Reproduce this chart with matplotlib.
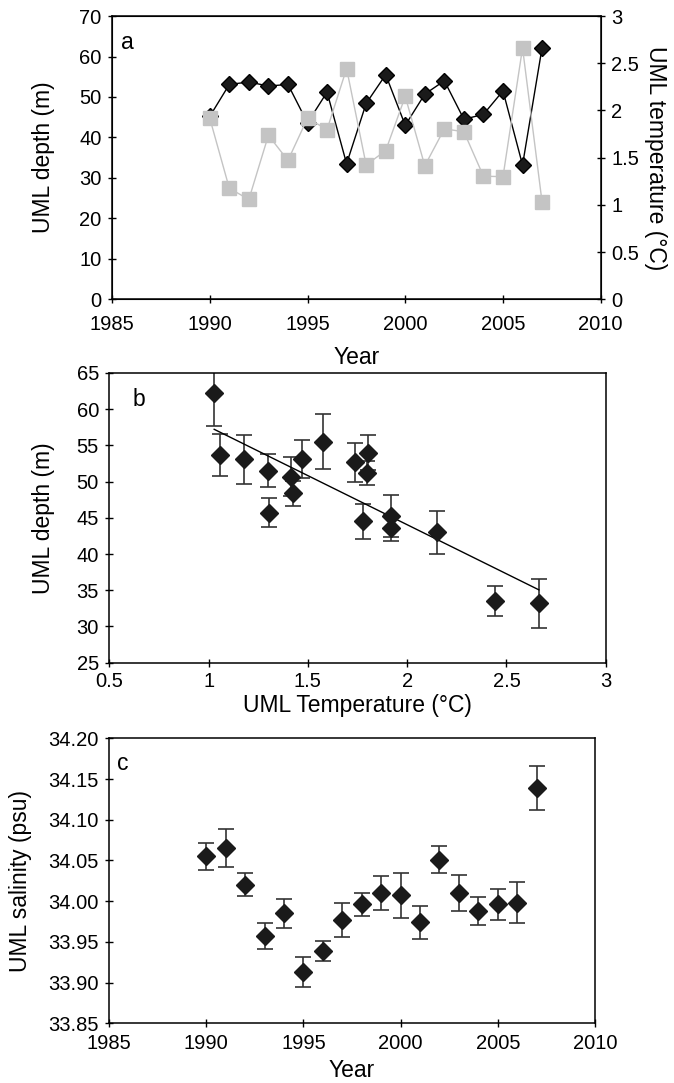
import numpy as np
import matplotlib
matplotlib.use("Agg")
import matplotlib.pyplot as plt

plt.rcParams["font.family"] = ["Liberation Sans", "DejaVu Sans"]

# data
years = [1990, 1991, 1992, 1993, 1994, 1995, 1996, 1997, 1998,
         1999, 2000, 2001, 2002, 2003, 2004, 2005, 2006, 2007]
uml_depth = [45.2, 53.1, 53.7, 52.7, 53.1, 43.6, 51.2, 33.5, 48.4,
             55.5, 43.0, 50.7, 54.0, 44.5, 45.7, 51.5, 33.2, 62.2]
depth_err = [2.9, 3.4, 2.9, 2.7, 2.6, 1.8, 1.6, 2.1, 1.7,
             3.8, 3.0, 2.7, 2.4, 2.4, 2.0, 2.3, 3.4, 4.5]
uml_temp = [1.918, 1.176, 1.058, 1.737, 1.471, 1.918, 1.798, 2.444, 1.423,
            1.575, 2.149, 1.414, 1.805, 1.775, 1.304, 1.299, 2.663, 1.028]
salinity = [34.055, 34.065, 34.020, 33.957, 33.985, 33.913, 33.939, 33.977, 33.996,
            34.010, 34.007, 33.974, 34.051, 34.010, 33.988, 33.996, 33.998, 34.139]
sal_err = [0.017, 0.023, 0.014, 0.016, 0.018, 0.018, 0.012, 0.021, 0.014,
           0.021, 0.028, 0.020, 0.017, 0.022, 0.017, 0.019, 0.025, 0.027]

TICK_FS = 14.5
LABEL_FS = 16.5
GRAY = "#c4c4c4"

fig = plt.figure(figsize=(6.74, 10.83), dpi=100)


def style_axes(ax, xpad):
    ax.tick_params(direction="inout", length=6, width=1, labelsize=TICK_FS,
                   top=False, right=False)
    ax.tick_params(axis="x", pad=xpad)
    ax.tick_params(axis="y", pad=4.5)
    for s in ax.spines.values():
        s.set_linewidth(1.1)


# a  depth and temperature through time
ax_a = fig.add_axes([0.1662, 0.7236, 0.7251, 0.2616])
ax_a.plot(years, uml_depth, color="black", lw=1, marker="D", ms=8.5,
          mfc="#1a1a1a", mec="black")
ax_a.set_xlim(1985, 2010)
ax_a.set_ylim(0, 70)
ax_a.set_xticks(range(1985, 2011, 5))
ax_a.set_yticks(range(0, 71, 10))
style_axes(ax_a, 8.5)
ax_a.set_xlabel("Year", fontsize=LABEL_FS)
ax_a.xaxis.set_label_coords(0.5, -0.163)
ax_a.set_ylabel("UML depth (m)", fontsize=LABEL_FS)
ax_a.yaxis.set_label_coords(-0.1166, 0.5)
ax_a.text(0.018, 0.883, "a", transform=ax_a.transAxes, fontsize=16.5)

ax_t = ax_a.twinx()
ax_t.plot(years, uml_temp, color=GRAY, lw=1, marker="s", ms=9.5,
          mfc=GRAY, mec=GRAY)
ax_t.set_ylim(0, 3)
ax_t.set_yticks(np.arange(0, 3.01, 0.5))
ax_t.set_yticklabels(["0", "0.5", "1", "1.5", "2", "2.5", "3"])
ax_t.tick_params(direction="inout", length=6, width=1, labelsize=TICK_FS, pad=4.5)
ax_t.set_ylabel("UML temperature (°C)", fontsize=LABEL_FS, rotation=270, labelpad=20)

# b  depth against temperature
ax_b = fig.add_axes([0.1622, 0.3881, 0.7366, 0.2675])
ax_b.errorbar(uml_temp, uml_depth, yerr=depth_err, fmt="D", ms=9.5, color="#1a1a1a",
              ecolor="#333333", elinewidth=1.2, capsize=6, capthick=1.2)
coef = np.polyfit(uml_temp, uml_depth, 1)
tx = np.array([min(uml_temp), max(uml_temp)])
ax_b.plot(tx, np.polyval(coef, tx), color="black", lw=1)
ax_b.set_xlim(0.5, 3)
ax_b.set_ylim(25, 65)
ax_b.set_xticks([0.5, 1, 1.5, 2, 2.5, 3])
ax_b.set_xticklabels(["0.5", "1", "1.5", "2", "2.5", "3"])
ax_b.set_yticks(range(25, 66, 5))
style_axes(ax_b, 3.5)
ax_b.set_xlabel("UML Temperature (°C)", fontsize=LABEL_FS)
ax_b.xaxis.set_label_coords(0.5, -0.108)
ax_b.set_ylabel("UML depth (m)", fontsize=LABEL_FS)
ax_b.yaxis.set_label_coords(-0.1094, 0.5)
ax_b.text(0.046, 0.886, "b", transform=ax_b.transAxes, fontsize=16.5)

# c  salinity through time
ax_c = fig.add_axes([0.1617, 0.0551, 0.7211, 0.2632])
ax_c.errorbar(years, salinity, yerr=sal_err, fmt="D", ms=9.5, color="#1a1a1a",
              ecolor="#333333", elinewidth=1.2, capsize=6, capthick=1.2)
ax_c.set_xlim(1985, 2010)
ax_c.set_ylim(33.85, 34.20)
ax_c.set_xticks(range(1985, 2011, 5))
sal_ticks = np.arange(33.85, 34.201, 0.05)
ax_c.set_yticks(sal_ticks)
ax_c.set_yticklabels([f"{v:.2f}" for v in sal_ticks])
style_axes(ax_c, 5)
ax_c.set_xlabel("Year", fontsize=LABEL_FS)
ax_c.xaxis.set_label_coords(0.5, -0.124)
ax_c.set_ylabel("UML salinity (psu)", fontsize=LABEL_FS)
ax_c.yaxis.set_label_coords(-0.158, 0.5)
ax_c.text(0.017, 0.889, "c", transform=ax_c.transAxes, fontsize=16.5)

plt.savefig("out.png", dpi=100)
plt.close()
